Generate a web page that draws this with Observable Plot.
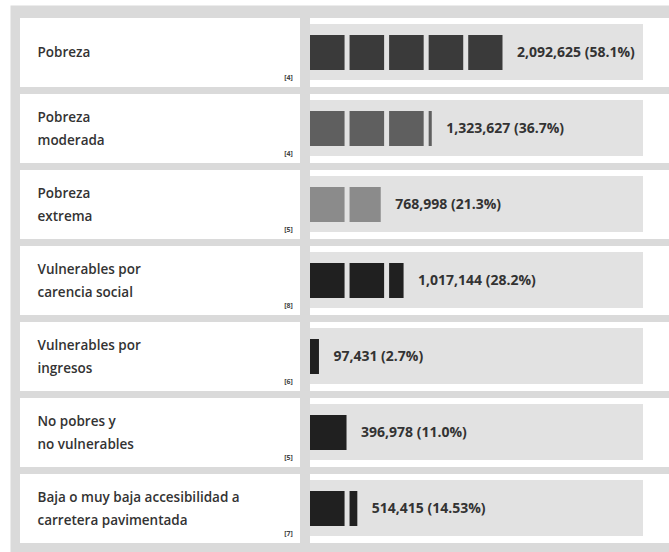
<!DOCTYPE html>
<html>
<head>
<meta charset="utf-8">
<script src="https://cdn.jsdelivr.net/npm/d3@7"></script>
<script src="https://cdn.jsdelivr.net/npm/@observablehq/plot@0.6"></script>
<style>
  html, body { margin: 0; padding: 0; background: #ffffff; }
  #chart svg { display: block; }
</style>
</head>
<body>
<div id="chart"></div>
<script>
// ---- data ----
const categories = [
  "Pobreza",
  "Pobreza\nmoderada",
  "Pobreza\nextrema",
  "Vulnerables por\ncarencia social",
  "Vulnerables por\ningresos",
  "No pobres y\nno vulnerables",
  "Baja o muy baja accesibilidad a\ncarretera pavimentada"
];
const values = [2092625, 1323627, 768998, 1017144, 97431, 396978, 514415];
const percents = ["58.1%", "36.7%", "21.3%", "28.2%", "2.7%", "11.0%", "14.53%"];
const notes = ["[4]", "[4]", "[5]", "[8]", "[6]", "[5]", "[7]"];
const totalPopulation = 3620000;
const peoplePerBlock = 430000;

// ---- styles ----
const palette = ["#3a3a3a", "#5f5f5f", "#8b8b8b", "#202020", "#202020", "#202020", "#202020"];

const rows = categories.map((cat, i) => ({
  cat, value: values[i], pct: percents[i], note: notes[i]
}));

// split each value into blocks of peoplePerBlock
const blocks = [];
rows.forEach(r => {
  const n = Math.ceil(r.value / peoplePerBlock);
  for (let i = 0; i < n; i++) {
    const last = i === n - 1;
    blocks.push({
      cat: r.cat,
      x1: i * peoplePerBlock,
      x2: last ? r.value : (i + 1) * peoplePerBlock,
      last
    });
  }
});

const fmt = d3.format(",");

const chart = Plot.plot({
  width: 669,
  height: 552,
  marginLeft: 310,
  marginRight: 26,
  marginTop: 17,
  marginBottom: 7,
  x: {domain: [0, totalPopulation], axis: null},
  y: {domain: categories, axis: null, paddingInner: 0.09, paddingOuter: 0},
  color: {domain: categories, range: palette},
  style: {fontFamily: "'Open Sans', 'DejaVu Sans', sans-serif", background: "#ffffff", overflow: "visible"},
  marks: [
    Plot.frame({fill: "#dadada", stroke: null, insetLeft: -300, insetTop: -12, insetBottom: -7, insetRight: -26}),
    // left label boxes
    Plot.cell(rows, {y: "cat", fill: "#ffffff", insetLeft: -290, insetRight: 343}),
    // right row bands
    Plot.cell(rows, {y: "cat", fill: "#ffffff", insetRight: -26}),
    // total population background bar
    Plot.barX(rows, {y: "cat", x1: () => 0, x2: () => totalPopulation, fill: "#e2e2e2", insetTop: 6, insetBottom: 7}),
    // full blocks
    Plot.barX(blocks.filter(b => !b.last), {y: "cat", x1: "x1", x2: "x2", fill: "cat", insetRight: 5, insetTop: 17, insetBottom: 17}),
    // last (partial) block
    Plot.barX(blocks.filter(b => b.last), {y: "cat", x1: "x1", x2: "x2", fill: "cat", insetTop: 17, insetBottom: 17}),
    // category labels
    Plot.text(rows, {
      y: "cat", text: "cat", frameAnchor: "left", dx: -273, dy: -3,
      textAnchor: "start", lineAnchor: "middle", lineHeight: 1.7,
      fontSize: 13.5, fontWeight: 600, fill: "#333333"
    }),
    // footnote markers
    Plot.text(rows, {
      y: "cat", text: "note", frameAnchor: "left", dx: -22, dy: 25,
      textAnchor: "middle", fontSize: 7, fontWeight: 700, fill: "#444444"
    }),
    // value labels
    Plot.text(rows, {
      x: "value", y: "cat", text: d => `${fmt(d.value)} (${d.pct})`,
      dx: 14, textAnchor: "start", fontSize: 14, fontWeight: 700, fill: "#333333",
      letterSpacing: 0.4
    })
  ]
});

document.getElementById("chart").appendChild(chart);
</script>
</body>
</html>
